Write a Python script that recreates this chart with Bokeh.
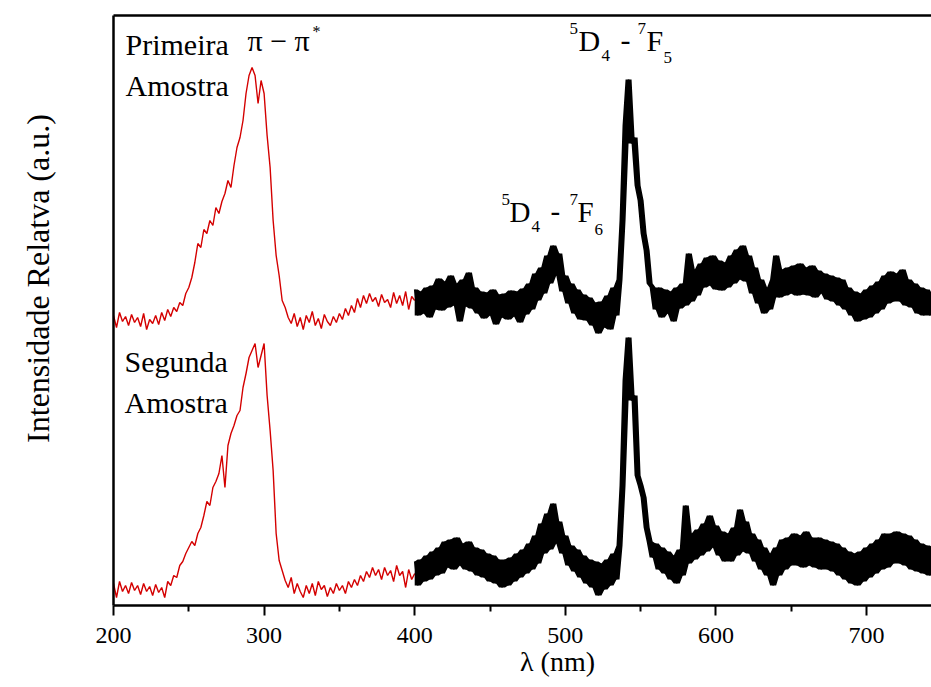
from bokeh.plotting import figure
from bokeh.models import Range1d, LinearAxis, FixedTicker, Label
from bokeh.embed import file_html
from bokeh.resources import INLINE

# ---------------- data ----------------
wl_red = list(range(200, 401, 2))
red_top = [
    290, 278, 293, 284, 289, 280, 291, 283, 288, 279,
    292, 276, 286, 282, 290, 281, 293, 285, 296, 289,
    298, 294, 303, 300, 312, 318, 328, 343, 362, 358,
    376, 372, 385, 380, 398, 392, 404, 412, 425, 418,
    440, 458, 468, 485, 512, 530, 538, 530, 502, 525,
    512, 470, 438, 385, 350, 330, 305, 298, 288, 282,
    292, 279, 288, 276, 290, 283, 294, 280, 287, 277,
    291, 284, 280, 289, 283, 292, 286, 297, 290, 300,
    293, 307, 298, 310, 302, 312, 304, 308, 299, 311,
    303, 306, 298, 313, 302, 310, 300, 314, 296, 309,
    305]
red_bottom = [
    22, 8, 24, 14, 20, 12, 23, 15, 20, 11,
    22, 14, 19, 10, 21, 13, 18, 8, 24, 20,
    30, 28, 40, 44, 52, 58, 64, 60, 72, 78,
    90, 104, 100, 118, 124, 132, 150, 118, 160, 172,
    180, 190, 195, 218, 232, 248, 255, 262, 238, 250,
    262, 210, 175, 135, 72, 45, 35, 25, 18, 28,
    12, 22, 14, 8, 20, 12, 22, 10, 24, 16,
    20, 9, 18, 12, 22, 15, 20, 12, 24, 18,
    26, 20, 30, 24, 34, 28, 38, 30, 36, 26,
    38, 30, 35, 24, 40, 30, 34, 18, 36, 26,
    32]

wl_black = list(range(400, 745, 2))
black_top = [
    316, 290, 314, 292, 318, 288, 320, 296, 327, 295,
    324, 298, 330, 300, 322, 284, 326, 299, 333, 297,
    318, 292, 314, 287, 313, 290, 316, 281, 311, 288,
    312, 286, 315, 289, 314, 283, 317, 291, 322, 296,
    332, 305, 338, 312, 350, 322, 360, 330, 352, 314,
    330, 302, 322, 292, 316, 286, 311, 285, 308, 280,
    303, 272, 304, 278, 310, 276, 318, 290, 326, 385,
    480, 526, 462, 468, 420, 405, 372, 355, 322, 318,
    296, 318, 288, 316, 292, 314, 284, 318, 297, 322,
    300, 352, 304, 336, 310, 342, 318, 348, 320, 350,
    316, 345, 315, 343, 318, 350, 322, 356, 326, 360,
    324, 350, 312, 338, 302, 326, 292, 318, 296, 326,
    350, 308, 336, 310, 338, 312, 340, 310, 342, 311,
    338, 310, 340, 308, 335, 312, 332, 306, 330, 304,
    328, 300, 326, 296, 318, 290, 314, 284, 312, 286,
    316, 288, 320, 292, 324, 296, 330, 302, 334, 304,
    332, 304, 336, 300, 326, 298, 322, 292, 318, 290,
    316, 290, 310]
black_bottom = [
    44, 20, 46, 24, 50, 26, 54, 30, 58, 32,
    64, 38, 66, 36, 68, 40, 62, 36, 64, 34,
    58, 30, 56, 28, 52, 24, 50, 22, 46, 18,
    46, 20, 48, 24, 52, 28, 56, 32, 62, 36,
    70, 42, 82, 52, 92, 56, 102, 62, 84, 52,
    70, 40, 60, 34, 56, 28, 50, 22, 46, 18,
    44, 10, 42, 16, 46, 20, 52, 26, 60, 120,
    225, 268, 205, 210, 130, 120, 108, 78, 64, 48,
    62, 36, 58, 32, 54, 26, 50, 22, 56, 30,
    100, 42, 72, 46, 76, 50, 82, 54, 90, 58,
    80, 50, 74, 44, 72, 44, 78, 50, 96, 54,
    84, 52, 72, 44, 66, 36, 58, 30, 52, 20,
    58, 30, 66, 36, 68, 40, 72, 40, 70, 38,
    74, 40, 68, 38, 68, 36, 66, 36, 64, 34,
    62, 30, 58, 26, 54, 22, 52, 20, 54, 24,
    58, 28, 62, 32, 66, 36, 72, 38, 72, 42,
    74, 42, 72, 40, 70, 36, 66, 34, 62, 32,
    60, 30, 58]

x_ticks = [200, 300, 400, 500, 600, 700]
x_minor_ticks = [250, 350, 450, 550, 650, 750]
x_title = "λ (nm)"
y_title = "Intensidade Relatva (a.u.)"

# ---------------- figure ----------------
FONT = "Liberation Serif"
W, H = 931, 687
LEFT, TOP, BOTTOM = 113, 15, 82
PX_PER_NM = 1.506
x_end = 200 + (W - LEFT) / PX_PER_NM
NBSP = "\u00a0"

p = figure(width=W, height=H, output_backend="svg", toolbar_location=None,
           x_range=Range1d(200, x_end), y_range=Range1d(0, H - TOP - BOTTOM),
           min_border_left=LEFT, min_border_right=0, min_border_top=TOP,
           min_border_bottom=BOTTOM, title=None)
p.outline_line_color = None
p.grid.visible = False
p.background_fill_color = "white"
p.border_fill_color = "white"

xa = p.xaxis[0]
xa.ticker = FixedTicker(ticks=x_ticks, minor_ticks=x_minor_ticks)
xa.axis_line_width = 2.5
xa.major_tick_line_width = 2
xa.minor_tick_line_width = 2
xa.major_tick_out = 10
xa.major_tick_in = 0
xa.minor_tick_out = 6
xa.minor_tick_in = 0
xa.major_label_text_font = FONT
xa.major_label_text_font_size = "24px"
xa.major_label_text_color = "black"
xa.major_label_standoff = 12
# leading no-break spaces move the centred title right, as in the original
xa.axis_label = NBSP * 10 + x_title
xa.axis_label_text_font = FONT
xa.axis_label_text_font_size = "28px"
xa.axis_label_text_font_style = "normal"
xa.axis_label_text_color = "black"
xa.axis_label_standoff = 0

ya = p.yaxis[0]
ya.ticker = FixedTicker(ticks=[])
ya.axis_line_width = 2.5
ya.major_tick_line_color = None
ya.minor_tick_line_color = None
ya.major_label_text_font_size = "0px"
ya.axis_label = NBSP * 8 + y_title
ya.axis_label_text_font = FONT
ya.axis_label_text_font_size = "32px"
ya.axis_label_text_font_style = "normal"
ya.axis_label_text_color = "black"
ya.axis_label_standoff = 58

top_axis = LinearAxis(ticker=FixedTicker(ticks=[]), axis_line_width=2.5,
                      major_tick_line_color=None, minor_tick_line_color=None,
                      major_label_text_font_size="0px")
p.add_layout(top_axis, "above")

RED = "#d40000"
p.line(wl_red, red_top, line_color=RED, line_width=1.4)
p.line(wl_red, red_bottom, line_color=RED, line_width=1.4)


def local_env(ys):
    """min / max over each point and its neighbours: the dense noisy trace
    of the original reads as a solid band between these."""
    n = len(ys)
    lo = [min(ys[max(0, i - 1):min(n, i + 2)]) for i in range(n)]
    hi = [max(ys[max(0, i - 1):min(n, i + 2)]) for i in range(n)]
    return lo, hi


for ys in (black_top, black_bottom):
    lo, hi = local_env(ys)
    p.varea(x=wl_black, y1=lo, y2=hi, fill_color="black")
    p.line(wl_black, ys, line_color="black", line_width=1.6)


def X(px):
    return 200 + (px - LEFT) / PX_PER_NM


def Y(py):
    return (H - BOTTOM) - py


def lab(px, py, text, size, baseline="alphabetic"):
    # alphabetic anchors land lower than requested in the svg output; compensate
    if baseline == "alphabetic":
        py -= 12 if size >= 24 else 9
    p.add_layout(Label(x=X(px), y=Y(py), text=text, text_font=FONT,
                       text_font_size=f"{size}px", text_color="black",
                       text_align="left", text_baseline=baseline))


lab(125, 56, "Primeira", 30)
lab(125, 97, "Amostra", 30)
lab(124, 373, "Segunda", 30)
lab(124, 414, "Amostra", 30)

lab(247, 52, "π − π", 30)
lab(312, 22, "*", 16, "top")

# 5D4 - 7F5
lab(569, 22, "5", 17, "top")
lab(578, 52, "D", 30)
lab(601, 64, "4", 17)
lab(620, 52, "-", 30)
lab(637, 22, "7", 17, "top")
lab(646, 52, "F", 30)
lab(663, 66, "5", 17)

# 5D4 - 7F6
lab(501, 193, "5", 17, "top")
lab(509, 223, "D", 29)
lab(531, 235, "4", 17)
lab(550, 223, "-", 29)
lab(569, 193, "7", 17, "top")
lab(577, 223, "F", 29)
lab(594, 238, "6", 17)

open("out.html", "w").write(file_html(p, INLINE))
